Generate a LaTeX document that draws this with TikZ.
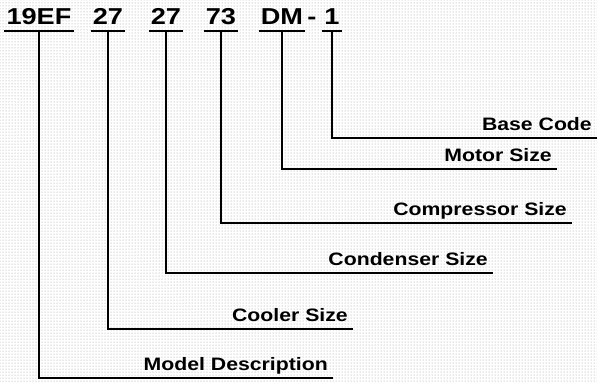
\documentclass[tikz,border=0pt]{standalone}
\usepackage{fontspec}
\setmainfont{Liberation Sans}[FakeStretch=1.18]
\usepackage{tikz}
\usetikzlibrary{patterns,positioning}

\begin{document}
\begin{tikzpicture}[x=1pt, y=-1pt,
    code/.style={font=\fontsize{23}{23}\selectfont\bfseries, anchor=south, inner xsep=2pt, inner ysep=6pt},
    desc/.style={font=\fontsize{18}{18}\selectfont\bfseries, anchor=south east, inner xsep=5pt, inner ysep=3pt, text depth=4pt},
    link/.style={line width=2.6pt}]
    % background and frame size
    \fill[white] (0,0) rectangle (597,381);
    \fill[pattern=dots, pattern color=gray!80] (0,0) rectangle (597,381);
    \useasboundingbox (0,0) rectangle (597,381);

    % model number fields
    \node[code] (model) at (39,31) {19EF};
    \node[code] (cooler) at (108,31) {27};
    \node[code] (condenser) at (166,31) {27};
    \node[code] (compressor) at (221,31) {73};
    \node[code] (motor) at (282,31) {DM};
    \node[code, inner xsep=0pt] (dash) at (312,31) {-};
    \node[code] (base) at (332,31) {1};

    \foreach \n in {model,cooler,condenser,compressor,motor,base}
        \draw[link] (\n.south west) -- (\n.south east);

    % descriptions
    \node[desc] (basedesc) at (597,138) {Base Code};
    \node[desc] (motordesc) at (557,169) {Motor Size};
    \node[desc] (compressordesc) at (572,223) {Compressor Size};
    \node[desc] (condenserdesc) at (493,273) {Condenser Size};
    \node[desc] (coolerdesc) at (353,329) {Cooler Size};
    \node[desc] (modeldesc) at (333,378) {Model Description};

    % leaders
    \draw[link] (base.south) |- (basedesc.south east);
    \draw[link] (motor.south) |- (motordesc.south east);
    \draw[link] (compressor.south) |- (compressordesc.south east);
    \draw[link] (condenser.south) |- (condenserdesc.south east);
    \draw[link] (cooler.south) |- (coolerdesc.south east);
    \draw[link] (model.south) |- (modeldesc.south east);
\end{tikzpicture}
\end{document}
